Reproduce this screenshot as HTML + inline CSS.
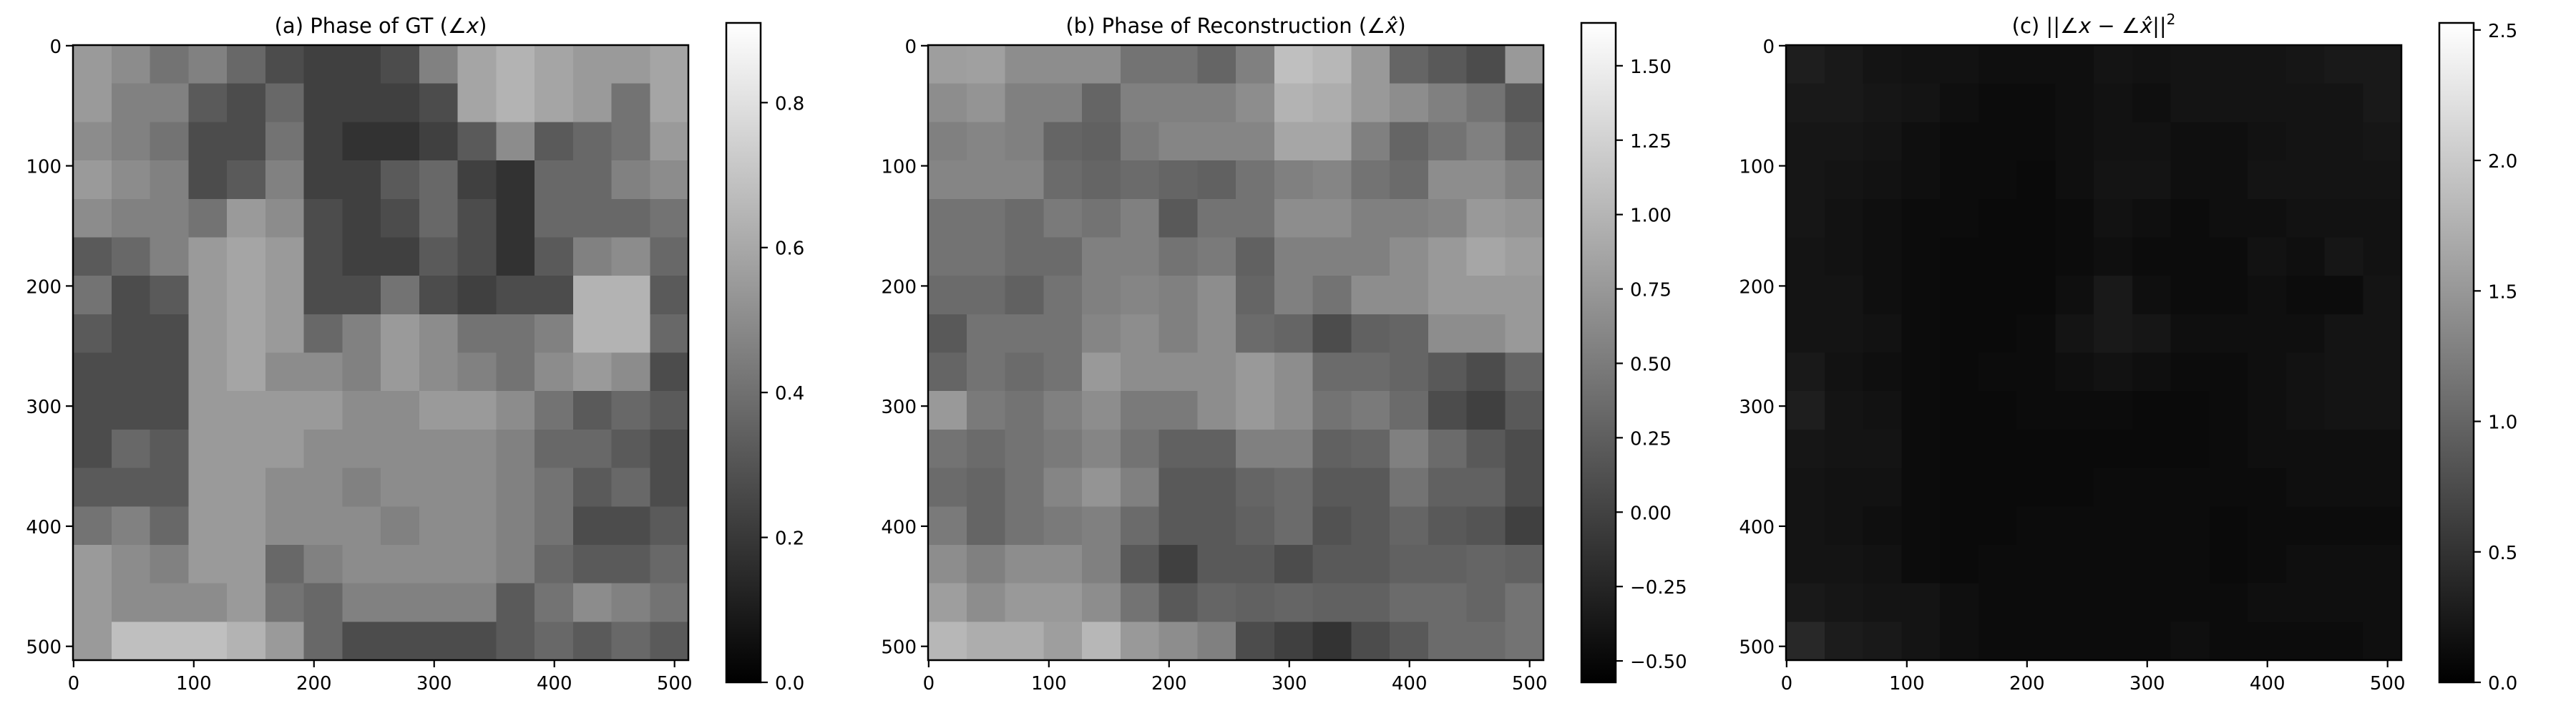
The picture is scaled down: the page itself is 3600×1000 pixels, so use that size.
<!DOCTYPE html>
<html><head><meta charset="utf-8"><style>
html,body{margin:0;padding:0;background:#fff;}
svg{display:block;font-family:"DejaVu Sans","Liberation Sans",sans-serif;}
</style></head><body>
<svg id="fig" width="3600" height="1000" viewBox="0 0 3600 1000" xmlns="http://www.w3.org/2000/svg">
<defs>
<linearGradient id="cmap" x1="0" y1="1" x2="0" y2="0"><stop offset="0" stop-color="#000"/><stop offset="1" stop-color="#fff"/></linearGradient>
</defs>
</svg>
<script>
// Data arrays (16x16 block estimates, row-major, in data units)
const gtValues = [
[0.55,0.50,0.41,0.46,0.37,0.27,0.23,0.23,0.27,0.46,0.59,0.64,0.59,0.55,0.55,0.59],
[0.55,0.46,0.46,0.32,0.27,0.37,0.23,0.23,0.23,0.27,0.59,0.64,0.59,0.55,0.41,0.59],
[0.50,0.46,0.41,0.27,0.27,0.41,0.23,0.18,0.18,0.23,0.32,0.50,0.32,0.37,0.41,0.55],
[0.55,0.50,0.46,0.27,0.32,0.46,0.23,0.23,0.32,0.37,0.23,0.18,0.37,0.37,0.46,0.50],
[0.50,0.46,0.46,0.41,0.55,0.50,0.27,0.23,0.27,0.37,0.27,0.18,0.37,0.37,0.37,0.41],
[0.32,0.37,0.46,0.55,0.59,0.55,0.27,0.23,0.23,0.32,0.27,0.18,0.32,0.46,0.50,0.37],
[0.41,0.27,0.32,0.55,0.59,0.55,0.27,0.27,0.41,0.27,0.23,0.27,0.27,0.64,0.64,0.32],
[0.32,0.27,0.27,0.55,0.59,0.55,0.37,0.46,0.55,0.50,0.41,0.41,0.46,0.64,0.64,0.37],
[0.27,0.27,0.27,0.55,0.59,0.50,0.50,0.46,0.55,0.50,0.46,0.41,0.50,0.55,0.50,0.27],
[0.27,0.27,0.27,0.55,0.55,0.55,0.55,0.50,0.50,0.55,0.55,0.50,0.41,0.32,0.37,0.32],
[0.27,0.37,0.32,0.55,0.55,0.55,0.50,0.50,0.50,0.50,0.50,0.46,0.37,0.37,0.32,0.27],
[0.32,0.32,0.32,0.55,0.55,0.50,0.50,0.46,0.50,0.50,0.50,0.46,0.41,0.32,0.37,0.27],
[0.41,0.46,0.37,0.55,0.55,0.50,0.50,0.50,0.46,0.50,0.50,0.46,0.41,0.27,0.27,0.32],
[0.55,0.50,0.46,0.55,0.55,0.37,0.46,0.50,0.50,0.50,0.50,0.46,0.37,0.32,0.32,0.37],
[0.55,0.50,0.50,0.50,0.55,0.41,0.37,0.46,0.46,0.46,0.46,0.32,0.41,0.50,0.46,0.41],
[0.55,0.68,0.68,0.68,0.64,0.55,0.37,0.27,0.27,0.27,0.27,0.32,0.37,0.32,0.37,0.32]];
const reconValues = [
[0.80,0.82,0.65,0.65,0.65,0.43,0.43,0.31,0.54,1.09,1.02,0.76,0.31,0.20,0.09,0.76],
[0.65,0.71,0.54,0.54,0.31,0.54,0.54,0.54,0.65,0.98,0.93,0.76,0.65,0.54,0.43,0.20],
[0.54,0.58,0.54,0.31,0.27,0.49,0.58,0.58,0.58,0.87,0.87,0.54,0.31,0.43,0.54,0.31],
[0.58,0.58,0.58,0.36,0.31,0.36,0.31,0.27,0.43,0.54,0.58,0.43,0.36,0.65,0.65,0.54],
[0.43,0.43,0.36,0.49,0.43,0.54,0.20,0.43,0.43,0.65,0.65,0.54,0.54,0.58,0.76,0.71],
[0.43,0.43,0.36,0.36,0.54,0.54,0.43,0.49,0.27,0.54,0.54,0.54,0.65,0.76,0.87,0.80],
[0.36,0.36,0.27,0.43,0.54,0.58,0.54,0.65,0.31,0.54,0.43,0.65,0.65,0.76,0.76,0.76],
[0.20,0.43,0.43,0.43,0.58,0.65,0.54,0.65,0.36,0.31,0.09,0.27,0.31,0.65,0.65,0.76],
[0.31,0.43,0.36,0.43,0.76,0.65,0.65,0.65,0.76,0.65,0.36,0.36,0.31,0.20,0.09,0.31],
[0.76,0.49,0.43,0.54,0.65,0.49,0.49,0.65,0.76,0.65,0.43,0.49,0.36,0.09,-0.02,0.20],
[0.43,0.36,0.43,0.49,0.58,0.43,0.27,0.27,0.54,0.54,0.27,0.31,0.54,0.36,0.20,0.09],
[0.36,0.31,0.43,0.58,0.71,0.54,0.20,0.20,0.31,0.36,0.20,0.20,0.43,0.27,0.27,0.09],
[0.49,0.31,0.43,0.49,0.54,0.36,0.20,0.20,0.27,0.36,0.14,0.20,0.31,0.20,0.16,-0.02],
[0.65,0.54,0.65,0.65,0.54,0.20,-0.02,0.20,0.20,0.09,0.20,0.20,0.27,0.27,0.31,0.27],
[0.80,0.65,0.76,0.76,0.65,0.43,0.20,0.31,0.27,0.31,0.27,0.27,0.36,0.36,0.31,0.43],
[1.02,0.93,0.93,0.80,1.02,0.76,0.65,0.54,0.09,-0.02,-0.13,0.09,0.20,0.36,0.36,0.43]];
const errValues = [
[0.30,0.25,0.20,0.18,0.18,0.15,0.15,0.15,0.20,0.18,0.20,0.20,0.20,0.22,0.25,0.25],
[0.25,0.25,0.22,0.20,0.15,0.12,0.12,0.15,0.18,0.15,0.20,0.20,0.20,0.20,0.20,0.25],
[0.22,0.22,0.20,0.15,0.12,0.12,0.12,0.15,0.18,0.18,0.15,0.15,0.18,0.20,0.20,0.22],
[0.22,0.20,0.18,0.15,0.12,0.12,0.10,0.15,0.20,0.20,0.15,0.15,0.20,0.20,0.20,0.20],
[0.22,0.18,0.15,0.12,0.12,0.10,0.10,0.12,0.18,0.15,0.12,0.15,0.15,0.18,0.18,0.18],
[0.20,0.18,0.15,0.12,0.10,0.10,0.10,0.12,0.15,0.12,0.12,0.12,0.18,0.15,0.22,0.18],
[0.20,0.20,0.15,0.12,0.10,0.10,0.10,0.15,0.25,0.15,0.12,0.12,0.15,0.12,0.12,0.20],
[0.20,0.20,0.18,0.12,0.10,0.10,0.12,0.20,0.25,0.22,0.15,0.15,0.15,0.15,0.20,0.20],
[0.25,0.18,0.15,0.12,0.10,0.12,0.12,0.15,0.18,0.15,0.12,0.12,0.15,0.18,0.20,0.20],
[0.30,0.20,0.18,0.12,0.10,0.10,0.12,0.12,0.12,0.10,0.10,0.12,0.15,0.18,0.20,0.20],
[0.22,0.20,0.20,0.12,0.10,0.10,0.10,0.10,0.10,0.10,0.10,0.12,0.15,0.15,0.15,0.15],
[0.20,0.18,0.18,0.12,0.10,0.10,0.10,0.10,0.12,0.12,0.12,0.12,0.12,0.15,0.15,0.15],
[0.20,0.18,0.15,0.12,0.10,0.10,0.12,0.12,0.12,0.12,0.12,0.10,0.12,0.12,0.12,0.12],
[0.20,0.20,0.18,0.12,0.10,0.12,0.12,0.12,0.12,0.12,0.12,0.10,0.12,0.15,0.15,0.15],
[0.25,0.22,0.20,0.20,0.15,0.12,0.12,0.12,0.12,0.12,0.12,0.12,0.15,0.15,0.15,0.15],
[0.40,0.28,0.25,0.20,0.15,0.12,0.12,0.12,0.12,0.12,0.15,0.12,0.12,0.12,0.12,0.15]];
const axisTicks = [0,100,200,300,400,500];
const cbTicksA = [0.0,0.2,0.4,0.6,0.8];
const cbLabelsA = ["0.0","0.2","0.4","0.6","0.8"];
const cbTicksB = [-0.5,-0.25,0,0.25,0.5,0.75,1.0,1.25,1.5];
const cbLabelsB = ["\u22120.50","\u22120.25","0.00","0.25","0.50","0.75","1.00","1.25","1.50"];
const cbTicksC = [0.0,0.5,1.0,1.5,2.0,2.5];
const cbLabelsC = ["0.0","0.5","1.0","1.5","2.0","2.5"];
const ranges = [[0,0.91],[-0.572,1.644],[0,2.527]];

const NS="http://www.w3.org/2000/svg";
const svg=document.getElementById('fig');
function mk(tag,attrs,parent){const e=document.createElementNS(NS,tag);for(const k in attrs)e.setAttribute(k,attrs[k]);(parent||svg).appendChild(e);return e;}

const AX_TOP=63, AX_W=860, AX_H=859, CB_OFF=913, CB_W=48, CB_TOP=32, CB_BOT=953;
const panels=[
 {left:102, data:gtValues, ticks:cbTicksA, labels:cbLabelsA, title:'(a) Phase of GT (∠<tspan font-style="italic">x</tspan>)', name:'panel-gt-phase'},
 {left:1297, data:reconValues, ticks:cbTicksB, labels:cbLabelsB, title:'(b) Phase of Reconstruction (∠<tspan font-style="italic">x̂</tspan>)', name:'panel-reconstruction-phase'},
 {left:2496, data:errValues, ticks:cbTicksC, labels:cbLabelsC, title:'(c) ||∠<tspan font-style="italic">x</tspan> − ∠<tspan font-style="italic">x̂</tspan>||<tspan dy="-12" font-size="20">2</tspan>', name:'panel-phase-error'}
];

panels.forEach((p,pi)=>{
  const g=mk('g',{});
  
  
  const [vmin,vmax]=ranges[pi];
  const xs=v=>p.left+(v+0.5)/512*AX_W;
  const ys=v=>AX_TOP+(v+0.5)/512*AX_H;
  const gray=v=>{let t=(v-vmin)/(vmax-vmin);t=Math.max(0,Math.min(1,t));const c=Math.round(t*255);return `rgb(${c},${c},${c})`;};
  const img=mk('g',{'shape-rendering':'crispEdges'},g);
  
  
  const n=p.data.length, bs=512/n;
  p.data.forEach((row,r)=>row.forEach((v,c)=>{
    const x0=p.left+c*bs/512*AX_W, x1=p.left+(c+1)*bs/512*AX_W;
    const y0=AX_TOP+r*bs/512*AX_H, y1=AX_TOP+(r+1)*bs/512*AX_H;
    const cell=mk('rect',{x:x0,y:y0,width:x1-x0+0.6,height:y1-y0+0.6,fill:gray(v)},img);
    
    
  }));
  const frame=mk('rect',{x:p.left,y:AX_TOP,width:AX_W,height:AX_H,fill:'none',stroke:'#000','stroke-width':2.5},g);
  
  
  axisTicks.forEach(t=>{
    const x=xs(t), y=ys(t);
    mk('line',{x1:x,x2:x,y1:AX_TOP+AX_H,y2:AX_TOP+AX_H+10,stroke:'#000','stroke-width':2.2},g);
    const xl=mk('text',{x:x,y:AX_TOP+AX_H+41,'font-size':26,'text-anchor':'middle'},g);xl.textContent=t;
    
    
    mk('line',{x1:p.left-10,x2:p.left,y1:y,y2:y,stroke:'#000','stroke-width':2.2},g);
    const yl=mk('text',{x:p.left-16,y:y+10,'font-size':26,'text-anchor':'end'},g);yl.textContent=t;
    
    
  });
  const tt=mk('text',{x:p.left+AX_W/2,y:46,'font-size':29,'text-anchor':'middle'},g);tt.innerHTML=p.title;
  
  
  const cx=p.left+CB_OFF;
  const cb=mk('rect',{x:cx,y:CB_TOP,width:CB_W,height:CB_BOT-CB_TOP,fill:'url(#cmap)',stroke:'#000','stroke-width':2.5},g);
  
  
  const cy=v=>CB_BOT-(v-vmin)/(vmax-vmin)*(CB_BOT-CB_TOP);
  p.ticks.forEach((t,i)=>{
    const y=cy(t);
    mk('line',{x1:cx+CB_W,x2:cx+CB_W+10,y1:y,y2:y,stroke:'#000','stroke-width':2.2},g);
    const l=mk('text',{x:cx+CB_W+20,y:y+10,'font-size':26},g);l.textContent=p.labels[i];
    
    
  });
});
</script>
</body></html>
